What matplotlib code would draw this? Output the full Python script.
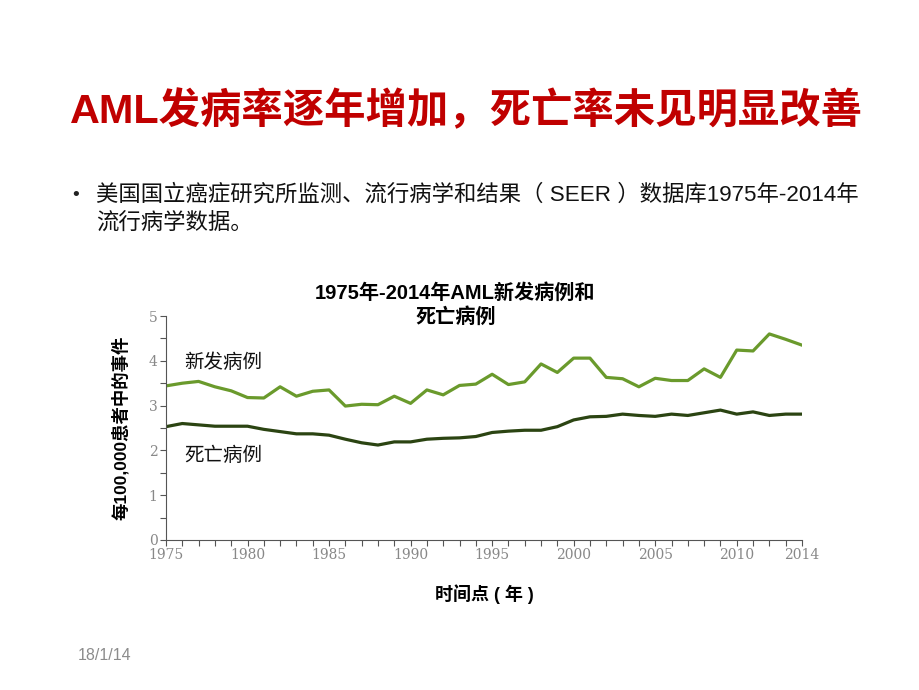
import matplotlib
matplotlib.use("Agg")
import matplotlib.pyplot as plt
from matplotlib.ticker import MultipleLocator

# Latin glyphs in an Arial-like face, CJK falls back to Noto
FAM = ['Liberation Sans', 'Noto Sans CJK SC', 'DejaVu Sans']
plt.rcParams['font.family'] = FAM

# data
years = list(range(1975, 2015))
incidence = [3.44, 3.50, 3.54, 3.42, 3.33, 3.18, 3.17, 3.42, 3.21, 3.32,
             3.35, 2.99, 3.03, 3.02, 3.21, 3.05, 3.35, 3.24, 3.45, 3.48,
             3.70, 3.47, 3.53, 3.93, 3.74, 4.06, 4.06, 3.63, 3.60, 3.42,
             3.61, 3.56, 3.56, 3.82, 3.63, 4.24, 4.22, 4.60, 4.48, 4.35]
mortality = [2.53, 2.60, 2.57, 2.54, 2.54, 2.54, 2.47, 2.42, 2.37, 2.37,
             2.34, 2.25, 2.17, 2.12, 2.19, 2.19, 2.25, 2.27, 2.28, 2.31,
             2.40, 2.43, 2.45, 2.45, 2.53, 2.68, 2.75, 2.76, 2.81, 2.78,
             2.76, 2.81, 2.78, 2.84, 2.90, 2.81, 2.86, 2.78, 2.81, 2.81]
xtick_years = [1975, 1980, 1985, 1990, 1995, 2000, 2005, 2010, 2014]
yticks = [0, 1, 2, 3, 4, 5]

fig = plt.figure(figsize=(9.2, 6.9), dpi=100)
fig.patch.set_facecolor('white')

# slide text
fig.text(0.507, 0.840, 'AML发病率逐年增加，死亡率未见明显改善', color='#C00000',
         fontsize=29.8, fontweight='bold', ha='center', va='center')
fig.text(0.082, 0.717, '•', fontsize=14, ha='center', va='center', color='#222222')
fig.text(0.104, 0.717, '美国国立癌症研究所监测、流行病学和结果（ SEER ）数据库1975年-2014年',
         fontsize=16.1, ha='left', va='center', color='#111111')
fig.text(0.104, 0.675, '流行病学数据。', fontsize=16.1, ha='left', va='center', color='#111111')
fig.text(0.085, 0.050, '18/1/14', fontsize=11.5, color='#8c8c8c', ha='left', va='center')

# chart title (placed by hand so it sits close to the plot like the slide)
fig.text(0.495, 0.558, '1975年-2014年AML新发病例和\n死亡病例', fontsize=14.5,
         fontweight='bold', ha='center', va='center', linespacing=1.25)

# chart
ax = fig.add_axes([0.1804, 0.2174, 0.6913, 0.3246])
ax.plot(years, incidence, color='#6A9A2C', linewidth=2.3, solid_joinstyle='round')
ax.plot(years, mortality, color='#2B4412', linewidth=2.3, solid_joinstyle='round')

ax.set_xlim(1975, 2014)
ax.set_ylim(0, 5)
ax.set_xticks(xtick_years)
ax.xaxis.set_minor_locator(MultipleLocator(1))
ax.set_yticks(yticks)
ax.yaxis.set_minor_locator(MultipleLocator(0.5))
for lab in ax.get_xticklabels() + ax.get_yticklabels():
    lab.set_family('DejaVu Serif')
    lab.set_color('#888888')
    lab.set_fontsize(10)
ax.tick_params(axis='both', which='both', direction='out', color='#555555',
               length=4, width=0.8, pad=2)
for side in ['top', 'right']:
    ax.spines[side].set_visible(False)
for side in ['left', 'bottom']:
    ax.spines[side].set_color('#555555')
    ax.spines[side].set_linewidth(0.8)

ax.text(1976.1, 3.95, '新发病例', fontsize=14, ha='left', va='center', color='#111111')
ax.text(1976.1, 1.88, '死亡病例', fontsize=14, ha='left', va='center', color='#111111')

ax.set_ylabel('每100,000患者中的事件', fontsize=12.5, fontweight='bold', labelpad=14)
ax.set_xlabel('时间点 ( 年 )', fontsize=13, fontweight='bold', labelpad=16)

fig.savefig('out.png', dpi=100)
